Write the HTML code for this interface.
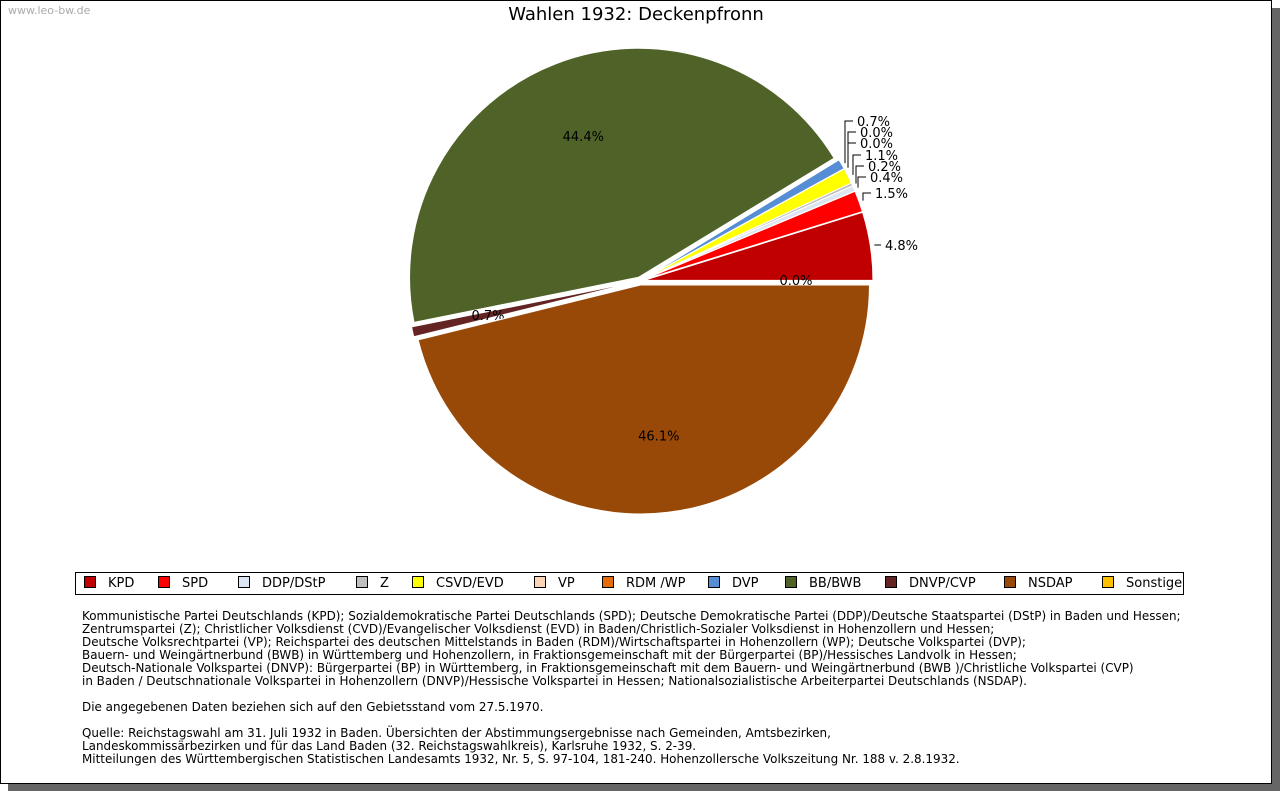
<!DOCTYPE html>
<html><head><meta charset="utf-8"><style>
body{margin:0;width:1280px;height:791px;background:#fff;position:relative;overflow:hidden;font-family:"DejaVu Sans","Liberation Sans",sans-serif;}
#shadow{position:absolute;left:8px;top:8px;width:1272px;height:783px;background:#666;}
#frame{position:absolute;left:0;top:0;width:1270px;height:782px;border:1px solid #000;background:#fff;}
#wm{position:absolute;left:8px;top:4px;font-size:11px;color:#aaa;}
#title{position:absolute;left:0;width:1272px;top:4px;text-align:center;font-size:18px;}
#legend{position:absolute;left:75px;top:572px;width:1107px;height:21px;border:1px solid #000;font-size:13px;}
.li{position:absolute;top:3px;}
.sw{display:inline-block;width:10px;height:10px;border:1px solid #000;vertical-align:-1px;margin-right:12px;}
#notes{position:absolute;left:82px;top:610px;font-size:11.95px;line-height:13px;white-space:pre;}
</style></head><body>
<div id="shadow"></div>
<div id="frame"></div>
<div id="wm">www.leo-bw.de</div>
<div id="title">Wahlen 1932: Deckenpfronn</div>
<svg id="pie" width="1280" height="791" style="position:absolute;left:0;top:0"></svg>
<div id="legend"></div>
<div id="notes">Kommunistische Partei Deutschlands (KPD); Sozialdemokratische Partei Deutschlands (SPD); Deutsche Demokratische Partei (DDP)/Deutsche Staatspartei (DStP) in Baden und Hessen;
Zentrumspartei (Z); Christlicher Volksdienst (CVD)/Evangelischer Volksdienst (EVD) in Baden/Christlich-Sozialer Volksdienst in Hohenzollern und Hessen;
Deutsche Volksrechtpartei (VP); Reichspartei des deutschen Mittelstands in Baden (RDM)/Wirtschaftspartei in Hohenzollern (WP); Deutsche Volkspartei (DVP);
Bauern- und Weingärtnerbund (BWB) in Württemberg und Hohenzollern, in Fraktionsgemeinschaft mit der Bürgerpartei (BP)/Hessisches Landvolk in Hessen;
Deutsch-Nationale Volkspartei (DNVP): Bürgerpartei (BP) in Württemberg, in Fraktionsgemeinschaft mit dem Bauern- und Weingärtnerbund (BWB )/Christliche Volkspartei (CVP)
in Baden / Deutschnationale Volkspartei in Hohenzollern (DNVP)/Hessische Volkspartei in Hessen; Nationalsozialistische Arbeiterpartei Deutschlands (NSDAP).

Die angegebenen Daten beziehen sich auf den Gebietsstand vom 27.5.1970.

Quelle: Reichstagswahl am 31. Juli 1932 in Baden. Übersichten der Abstimmungsergebnisse nach Gemeinden, Amtsbezirken,
Landeskommissärbezirken und für das Land Baden (32. Reichstagswahlkreis), Karlsruhe 1932, S. 2-39.
Mitteilungen des Württembergischen Statistischen Landesamts 1932, Nr. 5, S. 97-104, 181-240. Hohenzollersche Volkszeitung Nr. 188 v. 2.8.1932.</div>
<script>
const parties=["KPD","SPD","DDP/DStP","Z","CSVD/EVD","VP","RDM /WP","DVP","BB/BWB","DNVP/CVP","NSDAP","Sonstige"];
const values=[4.8,1.5,0.4,0.2,1.1,0.0,0.0,0.7,44.4,0.7,46.1,0.0];
const colors=["#c00000","#ff0000","#dce6f2","#bfbfbf","#ffff00","#fcd5b5","#e46c0a","#558ed5","#4f6228","#632423","#984807","#ffc000"];
const legendX=[83,157,237,355,411,533,601,707,784,884,1003,1101];
const svg=document.getElementById('pie');const NS="http://www.w3.org/2000/svg";
const cx=640,cy=281,r=229,ex=4;
const total=values.reduce((a,b)=>a+b,0);
let a0=0;
const smallLab=[[885,250],[875,198],[870,182],[868,171],[865,160],[860,148],[860,137],[857,126]];
values.forEach((v,i)=>{
  const a1=a0+v/total*2*Math.PI;const mid=(a0+a1)/2;
  const ox=Math.cos(mid)*ex,oy=-Math.sin(mid)*ex;
  if(v>0){
    const p=document.createElementNS(NS,'path');
    const x0=cx+ox+r*Math.cos(a0),y0=cy+oy-r*Math.sin(a0),x1=cx+ox+r*Math.cos(a1),y1=cy+oy-r*Math.sin(a1);
    p.setAttribute('d',`M${cx+ox},${cy+oy}L${x0},${y0}A${r},${r} 0 ${a1-a0>Math.PI?1:0} 0 ${x1},${y1}Z`);
    p.setAttribute('fill',colors[i]);p.setAttribute('stroke','#fff');p.setAttribute('stroke-width','1');
    
    
    svg.appendChild(p);
  }
  const t=document.createElementNS(NS,'text');t.setAttribute('font-size','13');t.setAttribute('font-family','DejaVu Sans, sans-serif');
  t.textContent=v.toFixed(1)+'%';
  if(v>10){t.setAttribute('x',cx+r*0.68*Math.cos(mid));t.setAttribute('y',cy-r*0.68*Math.sin(mid)+5);t.setAttribute('text-anchor','middle');}
  else if(i<=7){
    const ax=cx+ox+(r+2)*Math.cos(mid),ay=cy+oy-(r+2)*Math.sin(mid);
    const L=smallLab[i];
    const pl=document.createElementNS(NS,'polyline');
    if(i==0)pl.setAttribute('points',`${ax+2},${L[1]-5} ${L[0]-4},${L[1]-5}`);
    else pl.setAttribute('points',`${L[0]-4},${L[1]-5} ${L[0]-12},${L[1]-5} ${L[0]-12},${ay}`);
    pl.setAttribute('fill','none');pl.setAttribute('stroke','#000');
    
    
    svg.appendChild(pl);
    t.setAttribute('x',L[0]);t.setAttribute('y',L[1]);
  } else if(i==9){t.setAttribute('x',488);t.setAttribute('y',320);t.setAttribute('text-anchor','middle');}
  else {t.setAttribute('x',796);t.setAttribute('y',285);t.setAttribute('text-anchor','middle');}
  
  
  svg.appendChild(t);
  a0=a1;
});
const lg=document.getElementById('legend');
parties.forEach((p,i)=>{
  const d=document.createElement('span');d.className='li';d.style.left=(legendX[i]-75)+'px';
  
  
  d.innerHTML=`<span class="sw" style="background:${colors[i]}"></span>${p}`;lg.appendChild(d);
});
</script>
</body></html>
